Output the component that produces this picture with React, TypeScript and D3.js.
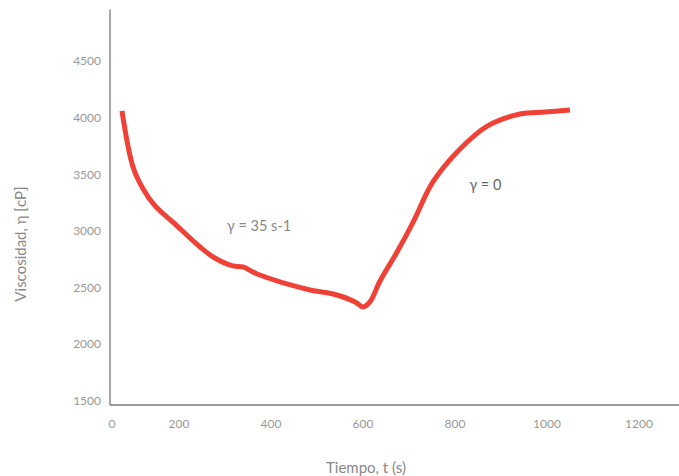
import React from "react";
import * as d3 from "d3";

const times = [76, 100, 122, 148, 191, 246, 278, 317, 339, 370, 485, 535, 583, 600, 615, 637, 674, 709, 752, 811, 870, 941, 996, 1050];
const viscosity = [4062, 3567, 3373, 3223, 3064, 2860, 2763, 2693, 2684, 2622, 2481, 2445, 2375, 2330, 2375, 2560, 2816, 3081, 3435, 3726, 3929, 4035, 4053, 4071];
const xTicks = [0, 200, 400, 600, 800, 1000, 1200];
const yTicks = [1500, 2000, 2500, 3000, 3500, 4000, 4500];
const annotations = [
  { label: "γ = 35 s-1", t: 304, v: 3000, color: "#888" },
  { label: "γ = 0", t: 831, v: 3364, color: "#666" },
];

export default function App() {
  const W = 679, H = 476;
  const x = d3.scaleLinear().domain([0, 1200]).range([87, 639]);
  const y = d3.scaleLinear().domain([1500, 4000]).range([401, 118]);
  const axisX0 = 110, axisY0 = 405;
  const line = d3.line<number>()
    .x((_, i) => x(times[i]))
    .y((d) => y(d))
    .curve(d3.curveCatmullRom.alpha(0.5));
  const font = "Lato, 'Open Sans', sans-serif";
  return (
    <svg width={W} height={H} style={{ position: "absolute", left: 0, top: 0, background: "#fff" }}>
      <line x1={axisX0} y1={9.5} x2={axisX0} y2={axisY0} stroke="#777" strokeWidth={1.3} />
      <line x1={axisX0} y1={axisY0} x2={W} y2={axisY0} stroke="#777" strokeWidth={1.3} />
      {yTicks.map((v) => (
        <text key={v} x={101} y={y(v) + 4} textAnchor="end" fontFamily={font} fontSize={12} fill="#999">{v}</text>
      ))}
      {xTicks.map((t) => (
        <text key={t} x={Math.max(x(t), 112)} y={428} textAnchor="middle" fontFamily={font} fontSize={12} fill="#999">{t}</text>
      ))}
      <text x={366} y={473} textAnchor="middle" fontFamily={font} fontSize={15} fill="#888">Tiempo, t (s)</text>
      <text transform={`translate(26,244) rotate(-90)`} textAnchor="middle" fontFamily={font} fontSize={15} fill="#888">Viscosidad, η [cP]</text>
      <path d={line(viscosity) || ""} fill="none" stroke="#ef4136" strokeWidth={5} strokeLinecap="butt" />
      {annotations.map((a) => (
        <text key={a.label} x={x(a.t)} y={y(a.v)} fontFamily={font} fontSize={14.5} fill={a.color}>{a.label}</text>
      ))}
    </svg>
  );
}
